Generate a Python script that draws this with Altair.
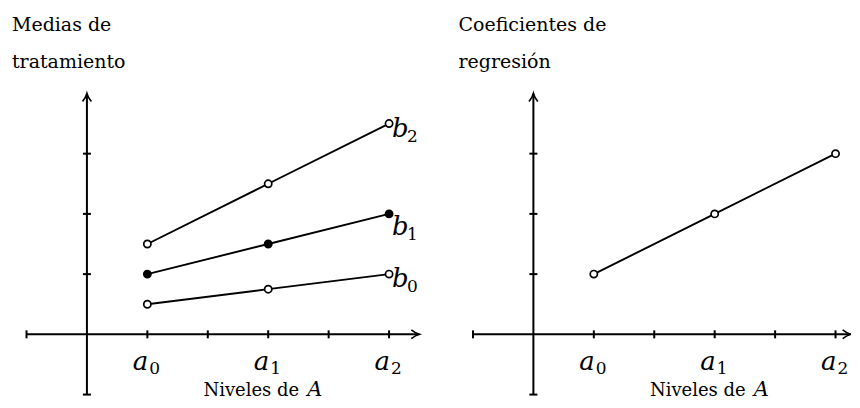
import altair as alt
import pandas as pd

# ---------------- data ----------------
niveles = ["a0", "a1", "a2"]
pos_niveles = [1, 3, 5]
series = ["b0", "b1", "b2"]
medias_b0 = [0.5, 0.75, 1.0]
medias_b1 = [1.0, 1.5, 2.0]
medias_b2 = [1.5, 2.5, 3.5]
coeficientes = [1.0, 2.0, 3.0]
x_ticks = [-1, 1, 2, 3, 4, 5]
y_ticks = [-1, 1, 2, 3]
x_axis_izq = [-1, 5.5]
x_axis_der = [-1, 5.25]
y_axis_range = [-1, 4]
titulo_izq = ["Medias de", "tratamiento"]
titulo_der = ["Coeficientes de", "regresión"]
xlabel_text = ["Niveles de", "A"]

FONT = "DejaVu Serif"

medias = pd.DataFrame({
    "nivel": niveles * 3,
    "x": pos_niveles * 3,
    "y": medias_b0 + medias_b1 + medias_b2,
    "serie": [s for s in series for _ in niveles],
})
coefs = pd.DataFrame({"nivel": niveles, "x": pos_niveles, "y": coeficientes, "serie": "c"})
niv_df = pd.DataFrame({"x": pos_niveles, "y": 0,
                       "letra": [n[0] for n in niveles], "sub": [n[1:] for n in niveles]})
xt_df = pd.DataFrame({"x": x_ticks, "y": 0})
yt_df = pd.DataFrame({"x": 0, "y": y_ticks})
yaxis_df = pd.DataFrame({"x": [0], "y": [y_axis_range[0]], "y2": [y_axis_range[1]]})
yarrow_df = pd.DataFrame({"x": [0], "y": [y_axis_range[1]]})
xlab_df = pd.DataFrame({"x": [pos_niveles[1]], "y": [y_axis_range[0]]})

# ---------------- layout ----------------
UNIT_X = 60.5
UNIT_Y = 60.3
X_MIN = -1.24
PAD_TOP = 8
TITLE_BLOCK = 55.5
TITLE_OFFSET = 11
PLOT_TOP = 8 + PAD_TOP + TITLE_BLOCK + TITLE_OFFSET   # page y of plot top
PLOT_BOTTOM = 397
ZERO_Y = 334
H = PLOT_BOTTOM - PLOT_TOP
Y_MAX = (ZERO_Y - PLOT_TOP) / UNIT_Y
Y_MIN = -(PLOT_BOTTOM - ZERO_Y) / UNIT_Y
lab_dy = {"b0": 13, "b1": 21, "b2": 13}


def panel(lines_df, width, title, filled_series, with_labels, x_axis_range):
    xmax = X_MIN + width / UNIT_X
    xs = alt.Scale(domain=[X_MIN, xmax], nice=False, zero=False, padding=0)
    ys = alt.Scale(domain=[Y_MIN, Y_MAX], nice=False, zero=False, padding=0)

    def X(f="x"):
        return alt.X(f"{f}:Q", scale=xs, axis=None)

    def Y(f="y"):
        return alt.Y(f"{f}:Q", scale=ys, axis=None)

    xaxis_df = pd.DataFrame({"x": [x_axis_range[0]], "x2": [x_axis_range[1]], "y": [0]})
    xarrow_df = pd.DataFrame({"x": [x_axis_range[1]], "y": [0]})

    xaxis = alt.Chart(xaxis_df).mark_rule(color="black", strokeWidth=2).encode(
        x=X(), x2="x2:Q", y=Y())
    yaxis = alt.Chart(yaxis_df).mark_rule(color="black", strokeWidth=2).encode(
        x=X(), y=Y(), y2="y2:Q")
    xarrow = alt.Chart(xarrow_df).mark_point(
        shape="M-1,-0.55 Q-0.45,-0.12 0,0 Q-0.45,0.12 -1,0.55", clip=True,
        filled=False, stroke="black", strokeWidth=1.6, size=256, opacity=1).encode(x=X(), y=Y())
    yarrow = alt.Chart(yarrow_df).mark_point(
        shape="M-0.55,1 Q-0.12,0.45 0,0 Q0.12,0.45 0.55,1",
        filled=False, stroke="black", strokeWidth=1.6, size=256, opacity=1).encode(x=X(), y=Y())
    xt = alt.Chart(xt_df).mark_tick(orient="vertical", size=8, thickness=2, color="black",
                                    opacity=1).encode(x=X(), y=Y())
    yt = alt.Chart(yt_df).mark_tick(orient="horizontal", size=8, thickness=2, color="black",
                                    opacity=1).encode(x=X(), y=Y())
    alab = alt.Chart(niv_df).mark_text(font=FONT, fontSize=26, fontStyle="italic", align="right",
                                       baseline="alphabetic", dx=1, dy=36, color="black").encode(
        x=X(), y=Y(), text="letra:N")
    asub = alt.Chart(niv_df).mark_text(font=FONT, fontSize=17, align="left",
                                       baseline="alphabetic", dx=2, dy=40, color="black").encode(
        x=X(), y=Y(), text="sub:N")
    xl1 = alt.Chart(xlab_df).mark_text(font=FONT, fontSize=18, align="right", baseline="alphabetic",
                                       dx=31, dy=1, color="black",
                                       text=xlabel_text[0]).encode(x=X(), y=Y())
    xl2 = alt.Chart(xlab_df).mark_text(font=FONT, fontSize=21, fontStyle="italic", align="left",
                                       baseline="alphabetic", dx=39, dy=1, color="black",
                                       text=xlabel_text[1]).encode(x=X(), y=Y())
    line = alt.Chart(lines_df).mark_line(color="black", strokeWidth=1.9).encode(
        x=X(), y=Y(), detail="serie:N")
    pts = alt.Chart(lines_df).mark_point(filled=True, shape="circle", size=52, stroke="black",
                                         strokeWidth=1.7, opacity=1).encode(
        x=X(), y=Y(),
        fill=alt.condition(alt.FieldOneOfPredicate(field="serie", oneOf=filled_series),
                           alt.value("black"), alt.value("white")))
    layers = [xaxis, yaxis, xt, yt, xarrow, yarrow, alab, asub, xl1, xl2, line, pts]

    if with_labels:
        for s in lines_df["serie"].unique():
            d = lines_df[(lines_df.serie == s) & (lines_df.nivel == niveles[-1])].copy()
            d["letra"] = s[0]
            d["sub"] = s[1:]
            layers.append(alt.Chart(d).mark_text(
                font=FONT, fontSize=26, fontStyle="italic", align="left", baseline="alphabetic",
                dx=3, dy=lab_dy[s], color="black").encode(x=X(), y=Y(), text="letra:N"))
            layers.append(alt.Chart(d).mark_text(
                font=FONT, fontSize=17, align="left", baseline="alphabetic",
                dx=18, dy=lab_dy[s] + 5, color="black").encode(x=X(), y=Y(), text="sub:N"))

    return alt.layer(*layers).properties(
        width=width, height=H,
        title=alt.TitleParams(text=title, anchor="start", font=FONT, fontSize=19,
                              fontWeight="normal", lineHeight=37, offset=TITLE_OFFSET,
                              color="black"))


left = panel(medias, 416, titulo_izq, ["b1"], True, x_axis_izq)
right = panel(coefs, 393, titulo_der, [], False, x_axis_der)

chart = alt.hconcat(left, right, spacing=31).properties(
    padding={"left": 4, "top": PAD_TOP, "right": 0, "bottom": 0},
    background="white",
).configure_view(stroke=None)

chart.save("out.html", embed_options={"renderer": "svg", "actions": False})
